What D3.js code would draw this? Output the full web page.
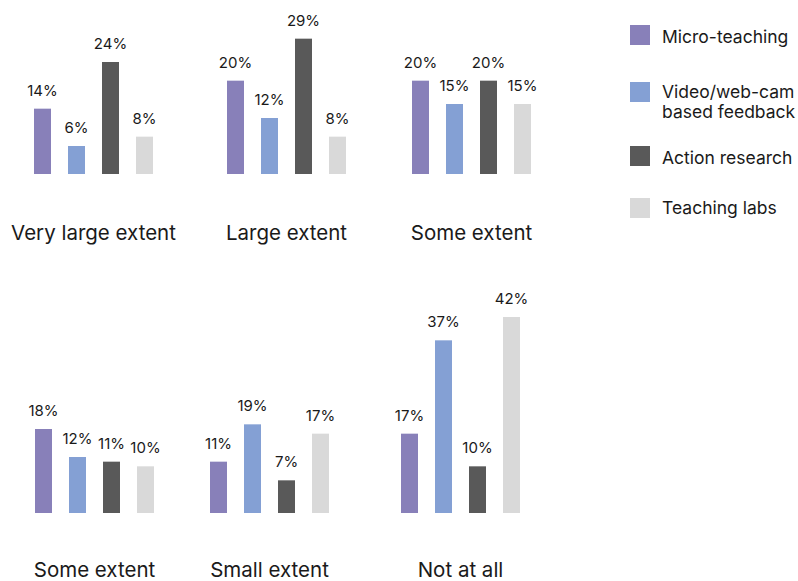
<!DOCTYPE html>
<html><head><meta charset="utf-8">
<script src="https://cdn.jsdelivr.net/npm/d3@7/dist/d3.min.js"></script>
<style>body{margin:0;background:#fff}svg{display:block}</style>
</head><body>
<svg id="chart" width="798" height="581"></svg>
<script>
const categories = ["Very large extent","Large extent","Some extent","Some extent","Small extent","Not at all"];
const seriesNames = ["Micro-teaching","Video/web-cam based feedback","Action research","Teaching labs"];
const microTeaching = [14,20,20,18,11,17];
const videoFeedback = [6,12,15,12,19,37];
const actionResearch = [24,29,20,11,7,10];
const teachingLabs = [8,8,15,10,17,42];
const seriesValues = [microTeaching, videoFeedback, actionResearch, teachingLabs];

const colors = ["#8880b9","#84a0d4","#595959","#d9d9d9"];
const font = "Inter, 'Noto Sans', sans-serif";
const svg = d3.select("#chart");

// panel layout: left x of first bar, baseline y, label baseline y
const panels = [
  {x:34, base:174, lab:240},{x:227, base:174, lab:240},{x:412, base:174, lab:240},
  {x:35, base:513, lab:577},{x:210, base:513, lab:577},{x:401, base:513, lab:577}
];
const y = d3.scaleLinear().domain([0,45]).range([0,210]);

categories.forEach((cat,i)=>{
  const p = panels[i];
  const x = d3.scaleBand().domain(seriesNames).range([p.x, p.x+119]).paddingInner(0.5).paddingOuter(0);
  const g = svg.append("g");
  const data = seriesNames.map((s,j)=>({s, v:seriesValues[j][i], c:colors[j]}));
  g.selectAll("rect").data(data).join("rect")
    .attr("x", d=>x(d.s)).attr("width", x.bandwidth())
    .attr("y", d=>p.base - y(d.v)).attr("height", d=>y(d.v))
    .attr("fill", d=>d.c);
  g.selectAll("text.v").data(data).join("text").attr("class","v")
    .attr("x", d=>x(d.s)+x.bandwidth()/2).attr("y", d=>p.base - y(d.v) - 13)
    .attr("text-anchor","middle").attr("font-family",font).attr("font-size",15)
    .attr("fill","#1a1a1a").text(d=>d.v+"%");
  g.append("text").attr("x", p.x+59.5).attr("y", p.lab)
    .attr("text-anchor","middle").attr("font-family",font).attr("font-size",20.5)
    .attr("fill","#1a1a1a").text(cat);
});

// legend
const legendLines = [["Micro-teaching"],["Video/web-cam","based feedback"],["Action research"],["Teaching labs"]];
const legendY = [25,82,146,198];
const legendBase = [43,98,164,214];
const lg = svg.append("g");
legendLines.forEach((lines,j)=>{
  lg.append("rect").attr("x",630).attr("y",legendY[j]).attr("width",20).attr("height",20).attr("fill",colors[j]);
  lines.forEach((t,k)=>{
    lg.append("text").attr("x",662).attr("y",legendBase[j]+k*19.5)
      .attr("font-family",font).attr("font-size",17.5).attr("fill","#1a1a1a").text(t);
  });
});
</script>
</body></html>
